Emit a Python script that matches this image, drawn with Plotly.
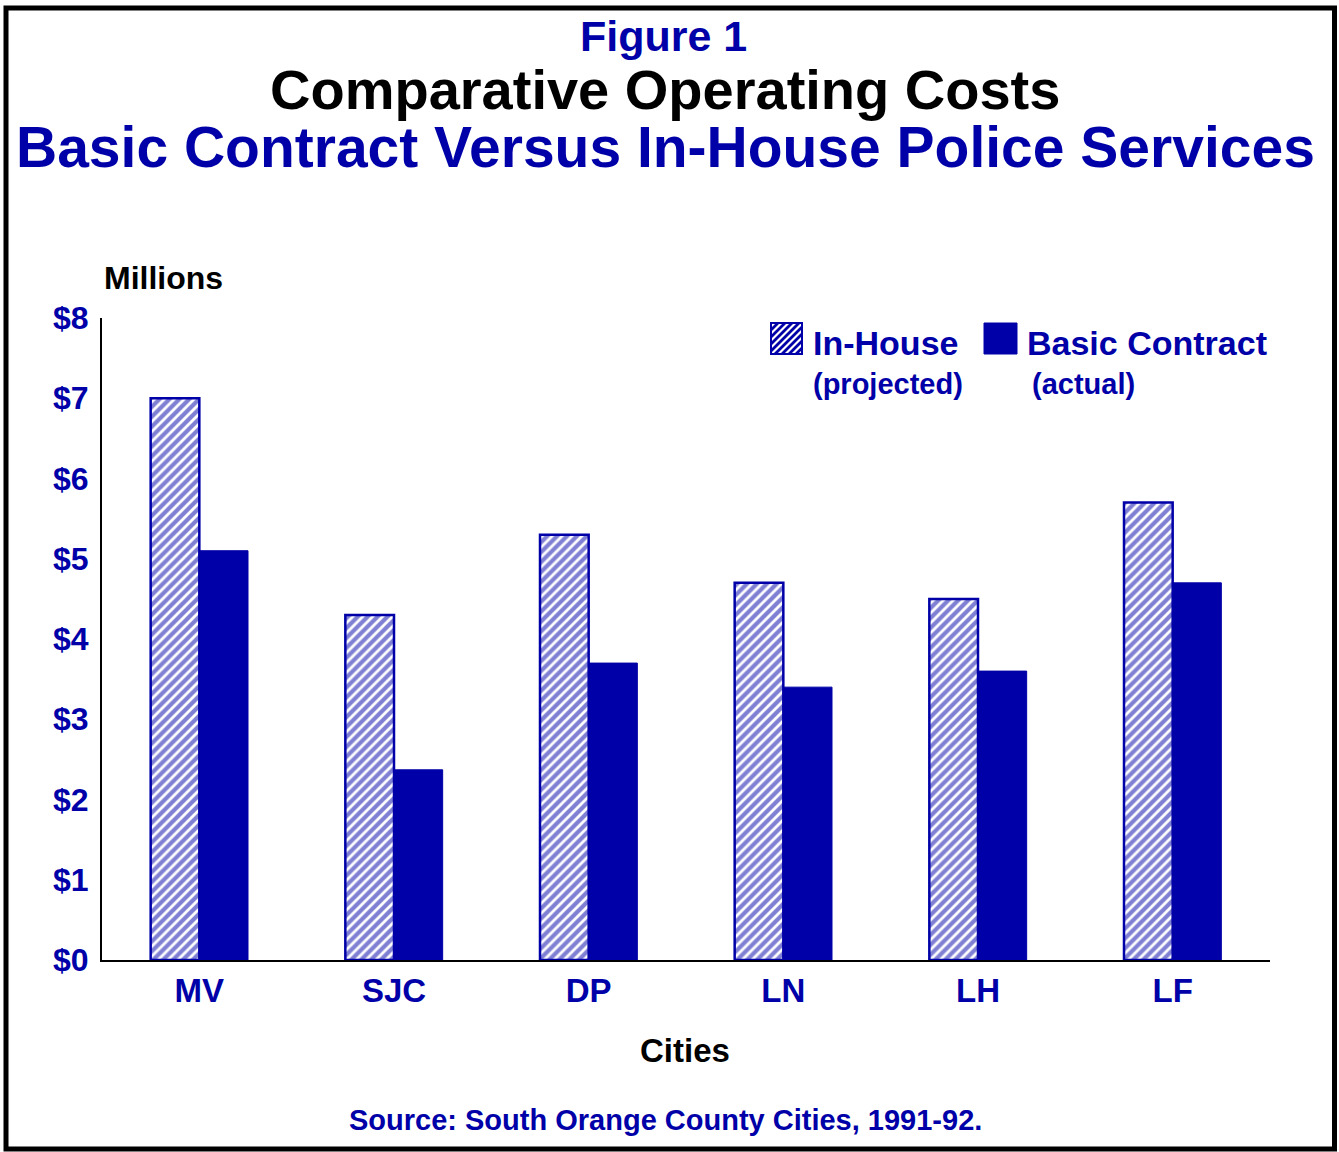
import plotly.graph_objects as go

# ---------------- data ----------------
cities = ["MV", "SJC", "DP", "LN", "LH", "LF"]
in_house = [7.0, 4.3, 5.3, 4.7, 4.5, 5.7]       # projected, $ millions
basic_contract = [5.1, 2.37, 3.7, 3.4, 3.6, 4.7]  # actual, $ millions
y_ticks = [0, 1, 2, 3, 4, 5, 6, 7, 8]

BLUE = "#0000A8"
FONT = "Liberation Sans"

W, H = 1339, 1152
L, R, T, B = 102, 1270, 318, 960   # plot area (px)


def px(x):
    return (x - L) / (R - L)


def py(y):
    return (B - y) / (B - T)


fig = go.Figure()
fig.add_trace(go.Bar(
    x=cities, y=in_house, name="In-House",
    marker=dict(color="white", line=dict(color=BLUE, width=2.5),
                pattern=dict(shape="/", fgcolor=BLUE, bgcolor="white",
                             size=7, solidity=0.6)),
    showlegend=False,
))
fig.add_trace(go.Bar(
    x=cities, y=basic_contract, name="Basic Contract",
    marker=dict(color=BLUE, line=dict(color=BLUE, width=1)),
    showlegend=False,
))

fig.update_layout(
    width=W, height=H,
    margin=dict(l=L, r=W - R, t=T, b=H - B, pad=0),
    paper_bgcolor="white", plot_bgcolor="white",
    barmode="group", bargap=0.5, bargroupgap=0,
    font=dict(family=FONT, color=BLUE, weight="bold"),
    showlegend=False,
)
fig.update_yaxes(
    range=[0, 8], tickvals=y_ticks, ticktext=[f"${v}" for v in y_ticks],
    showgrid=False, zeroline=False, showline=True, linecolor="black",
    linewidth=2, ticks="", ticklabelstandoff=5,
    tickfont=dict(size=32, color=BLUE, family=FONT, weight="bold"),
)
fig.update_xaxes(
    showgrid=False, showline=True, linecolor="black", linewidth=2,
    ticks="", ticklabelstandoff=0,
    tickfont=dict(size=33, color=BLUE, family=FONT, weight="bold"),
)

shapes = []
# outer frame
shapes.append(dict(type="rect", xref="paper", yref="paper",
                   x0=px(6), x1=px(1334.5), y0=py(8), y1=py(1149),
                   line=dict(color="black", width=5), fillcolor="rgba(0,0,0,0)"))

# legend swatches
sx0, sx1, sy0, sy1 = 771, 802, 323, 354
step = 7
path = ""
c = sx0 + sy0 + step
while c < sx1 + sy1:
    xa = max(sx0, c - sy1); ya = c - xa
    xb = min(sx1, c - sy0); yb = c - xb
    path += f"M{px(xa)},{py(ya)} L{px(xb)},{py(yb)} "
    c += step
shapes.append(dict(type="path", xref="paper", yref="paper", path=path,
                   line=dict(color=BLUE, width=2.8)))
shapes.append(dict(type="rect", xref="paper", yref="paper",
                   x0=px(sx0), x1=px(sx1), y0=py(sy1), y1=py(sy0),
                   line=dict(color=BLUE, width=2), fillcolor="rgba(0,0,0,0)"))
shapes.append(dict(type="rect", xref="paper", yref="paper",
                   x0=px(984), x1=px(1017), y0=py(354), y1=py(323),
                   line=dict(color=BLUE, width=1), fillcolor=BLUE))
fig.update_layout(shapes=shapes)


def ann(text, x, y, size, color=BLUE, xanchor="center"):
    fig.add_annotation(text=text, x=px(x), y=py(y), xref="paper", yref="paper",
                       xanchor=xanchor, yanchor="middle", showarrow=False,
                       font=dict(size=size, color=color, family=FONT, weight="bold"))


ann("Figure 1", 663, 36, 43)
ann("Comparative Operating Costs", 665, 90, 56, color="black")
ann("Basic Contract Versus In-House Police Services", 665, 147, 57)
ann("Millions", 102, 278, 32, color="black", xanchor="left")
ann("In-House", 811, 343, 34, xanchor="left")
ann("Basic Contract", 1025, 343, 34, xanchor="left")
ann("(projected)", 888, 384, 29)
ann("(actual)", 1083, 384, 29)
ann("Cities", 685, 1050, 33, color="black")
ann("Source: South Orange County Cities, 1991-92.", 665, 1120, 29)

fig.write_html(
    "out.html",
    config={"displayModeBar": False},
    post_script="document.body.style.margin='0';document.body.style.padding='0';"
                "document.body.style.overflow='hidden';",
)
